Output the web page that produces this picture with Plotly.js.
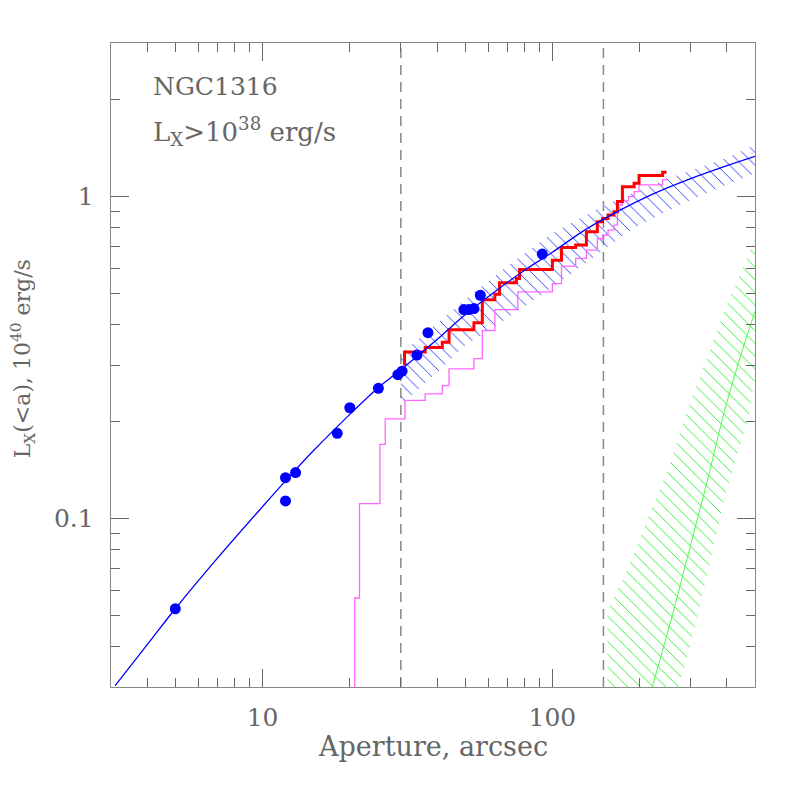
<!DOCTYPE html>
<html>
<head>
<meta charset="utf-8">
<script src="https://cdn.plot.ly/plotly-3.0.1.min.js"></script>
<style>
  body { margin: 0; background: #fff; }
  #plot { width: 797px; height: 797px; }
</style>
</head>
<body>
<div id="plot"></div>
<script>
// aperture limits (dashed lines), arcsec
let apertureLimits = [30, 150];

// blue points: L_X inside aperture
let pointX = [5, 12, 12, 13, 18.1, 20, 25.1, 29.3, 30.3, 34.1, 37.2, 49.5, 51.5, 53.6, 56.4, 92.3];
let pointY = [0.0525, 0.134, 0.1135, 0.139, 0.184, 0.221, 0.254, 0.280, 0.287, 0.322, 0.378, 0.446, 0.446, 0.449, 0.494, 0.663];

// blue model curve
let modelX = [3.1, 4, 5, 7, 10, 12, 15, 20, 25, 30, 40, 50, 65, 80, 100, 130, 170, 220, 300, 400, 500];
let modelY = [0.0303, 0.0406, 0.0525, 0.0755, 0.109, 0.131, 0.1627, 0.2108, 0.2547, 0.29, 0.36, 0.43, 0.516, 0.59, 0.672, 0.79, 0.905, 1.015, 1.138, 1.248, 1.334];

// blue hatched band
let bandX = [30, 40, 50, 70, 100, 140, 190, 270, 400, 500];
let bandUpper = [0.325, 0.404, 0.478, 0.61, 0.769, 0.905, 1.03, 1.165, 1.32, 1.45];
let bandLower = [0.225, 0.285, 0.345, 0.42, 0.522, 0.652, 0.798, 0.935, 1.09, 1.18];

// red cumulative (steps)
let redX = [30.9, 30.9, 36.4, 41.7, 44.0, 53.6, 57.3, 63.3, 65.7, 75.1, 77.0, 100, 107.5, 120.3, 131, 142.9, 149, 155.6, 163, 167.6, 174.4, 191.4, 199, 240, 247.6];
let redY = [0.299, 0.329, 0.340, 0.353, 0.386, 0.406, 0.478, 0.498, 0.540, 0.557, 0.594, 0.635, 0.695, 0.707, 0.778, 0.836, 0.856, 0.877, 0.898, 0.965, 1.074, 1.10, 1.163, 1.19, 1.19];

// magenta cumulative (steps)
let magX = [20.8, 20.8, 21.6, 25.4, 26.5, 31.0, 36.4, 41.7, 44.0, 53.6, 57.3, 63.3, 76.0, 100, 107.5, 120.3, 131, 142.9, 149, 155.6, 163, 167.6, 174.4, 183, 191.4, 199, 240, 247.6];
let magY = [0.01, 0.0567, 0.1113, 0.170, 0.204, 0.233, 0.244, 0.259, 0.292, 0.314, 0.384, 0.446, 0.506, 0.537, 0.608, 0.643, 0.682, 0.740, 0.760, 0.787, 0.816, 0.942, 0.97, 1.0, 1.036, 1.087, 1.127, 1.14];

// green hatched band and its centre line
let greenUpX = [155, 177, 200, 220, 250, 277, 300, 343, 392, 436, 500];
let greenUpY = [0.052, 0.066, 0.086, 0.108, 0.141, 0.1875, 0.233, 0.318, 0.444, 0.550, 0.74];
let greenLoX = [272, 292, 317, 343, 366, 392, 424, 460, 478, 500];
let greenLoY = [0.030, 0.0369, 0.0504, 0.0687, 0.0873, 0.116, 0.148, 0.1875, 0.211, 0.275];
let greenMidX = [221, 256, 300, 343, 392, 436, 500];
let greenMidY = [0.03, 0.048, 0.083, 0.132, 0.215, 0.30, 0.44];

let xRange = [3, 500];
let yRange = [0.03, 3];

// polygon for the green band, closed along the bottom axis
let greenPolyX = greenUpX.concat(greenLoX.slice().reverse(), [greenUpX[0]]);
let greenPolyY = greenUpY.concat(greenLoY.slice().reverse(), [yRange[0]]);

let fontFam = "DejaVu Serif, serif";
let grey = "#666";

let bandLo = {
    x: bandX, y: bandLower,
    mode: "lines", line: {width: 0, color: "rgba(0,0,0,0)"},
    hoverinfo: "skip", showlegend: false
};
let bandHi = {
    x: bandX, y: bandUpper,
    mode: "lines", line: {width: 0, color: "rgba(0,0,0,0)"},
    fill: "tonexty", fillcolor: "rgba(0,0,0,0)",
    fillpattern: {shape: "\\", fgcolor: "#2233ff", size: 9, solidity: 0.1},
    hoverinfo: "skip", showlegend: false
};
let greenBand = {
    x: greenPolyX, y: greenPolyY,
    mode: "lines", line: {width: 0, color: "rgba(0,0,0,0)"},
    fill: "toself", fillcolor: "rgba(0,0,0,0)",
    fillpattern: {shape: "\\", fgcolor: "#22ee22", size: 9, solidity: 0.1},
    hoverinfo: "skip", showlegend: false
};
let greenMid = {
    x: greenMidX, y: greenMidY,
    mode: "lines", line: {width: 1, color: "#44ff44", shape: "spline"},
    showlegend: false
};
let magTrace = {
    x: magX, y: magY,
    mode: "lines", line: {width: 1.3, color: "#ff66ff", shape: "hv"},
    showlegend: false
};
let redTrace = {
    x: redX, y: redY,
    mode: "lines", line: {width: 3, color: "#ff0000", shape: "hv"},
    showlegend: false
};
let modelTrace = {
    x: modelX, y: modelY,
    mode: "lines", line: {width: 1.3, color: "#0000ff", shape: "spline"},
    showlegend: false
};
let pointTrace = {
    x: pointX, y: pointY,
    mode: "markers", marker: {size: 11, color: "#0000ff"},
    showlegend: false
};

let data = [bandLo, bandHi, greenBand, greenMid, magTrace, redTrace, modelTrace, pointTrace];

let axisCommon = {
    type: "log",
    showgrid: false,
    zeroline: false,
    showline: true,
    linecolor: "#888",
    linewidth: 1.3,
    mirror: "ticks",
    ticks: "inside",
    ticklen: 18,
    tickwidth: 1,
    tickcolor: grey,
    tickfont: {family: fontFam, size: 25, color: grey}
};

let layout = {
    width: 797,
    height: 797,
    margin: {l: 111, r: 42, t: 43, b: 110},
    paper_bgcolor: "#fff",
    plot_bgcolor: "#fff",
    xaxis: Object.assign({}, axisCommon, {
        range: [Math.log10(xRange[0]), Math.log10(xRange[1])],
        tickvals: [10, 100],
        ticktext: ["10", "100"],
        ticklabelstandoff: 8,
        minor: {tickvals: [3, 4, 5, 6, 7, 8, 9, 20, 30, 40, 50, 60, 70, 80, 90, 200, 300, 400, 500],
                ticks: "inside", ticklen: 9, tickcolor: grey, tickwidth: 1}
    }),
    yaxis: Object.assign({}, axisCommon, {
        range: [Math.log10(yRange[0]), Math.log10(yRange[1])],
        tickvals: [0.1, 1],
        ticktext: ["0.1", "1"],
        ticklabelstandoff: 11,
        minor: {tickvals: [0.03, 0.04, 0.05, 0.06, 0.07, 0.08, 0.09, 0.2, 0.3, 0.4, 0.5, 0.6, 0.7, 0.8, 0.9, 2, 3],
                ticks: "inside", ticklen: 9, tickcolor: grey, tickwidth: 1}
    }),
    shapes: apertureLimits.map(v => ({
        type: "line", xref: "x", yref: "paper",
        x0: v, x1: v, y0: 0, y1: 1,
        layer: "below",
        line: {color: "#888", width: 1.5, dash: "10px,7px"}
    })),
    annotations: [
        {text: "Aperture, arcsec", xref: "paper", yref: "paper", x: 0.5, y: -0.093,
         xanchor: "center", yanchor: "middle", showarrow: false,
         font: {family: fontFam, size: 27, color: grey}},
        {text: "L<sub>X</sub>(&lt;a), 10<sup>40</sup> erg/s", xref: "paper", yref: "paper",
         x: -0.137, y: 0.51, textangle: -90, xanchor: "center", yanchor: "middle", showarrow: false,
         font: {family: fontFam, size: 22, color: grey}},
        {text: "NGC1316", xref: "paper", yref: "paper", x: 0.062, y: 0.933,
         xanchor: "left", yanchor: "middle", showarrow: false,
         font: {family: fontFam, size: 25, color: grey}},
        {text: "L<sub>X</sub>&gt;10<sup>38</sup> erg/s", xref: "paper", yref: "paper", x: 0.062, y: 0.863,
         xanchor: "left", yanchor: "middle", showarrow: false,
         font: {family: fontFam, size: 26, color: grey}}
    ]
};

Plotly.newPlot("plot", data, layout, {staticPlot: true});
</script>
</body>
</html>
